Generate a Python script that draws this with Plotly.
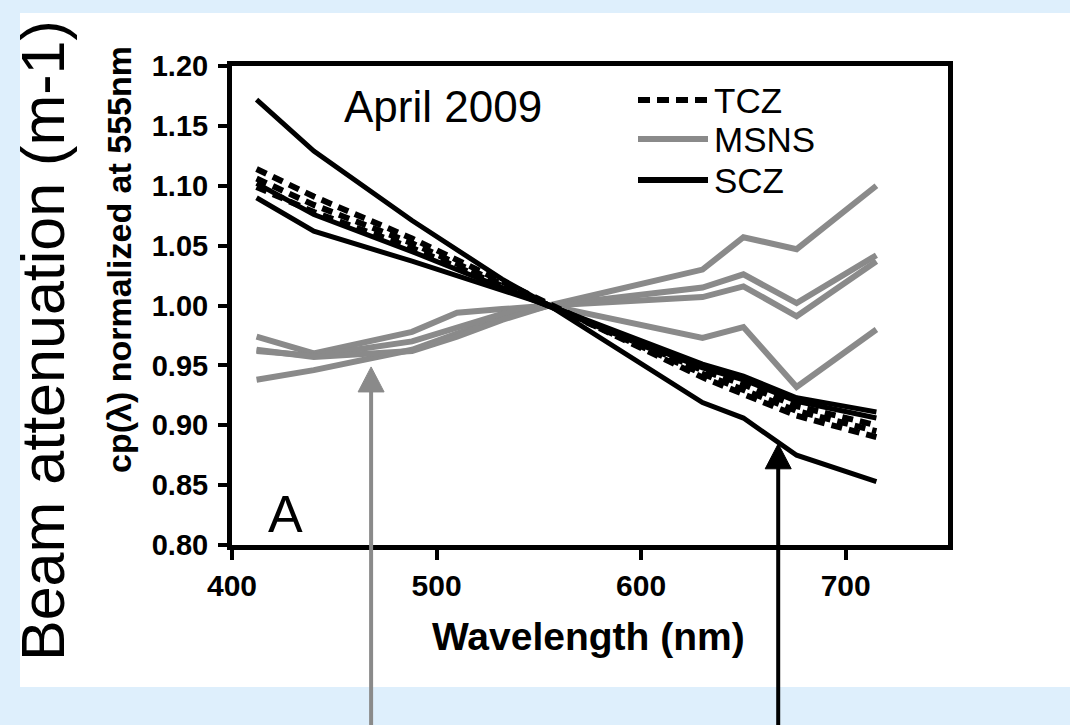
import plotly.graph_objects as go

# ---------------- data ----------------
wavelength = [412, 440, 488, 510, 532, 555, 630, 650, 676, 715]

tcz_1 = [1.114, 1.091, 1.056, 1.038, 1.019, 1.000, 0.940, 0.926, 0.908, 0.890]
tcz_2 = [1.106, 1.084, 1.052, 1.035, 1.017, 1.000, 0.943, 0.930, 0.912, 0.895]
tcz_3 = [1.099, 1.078, 1.048, 1.032, 1.016, 1.000, 0.946, 0.934, 0.916, 0.900]

msns_1 = [0.938, 0.946, 0.963, 0.976, 0.990, 1.000, 1.030, 1.057, 1.047, 1.100]
msns_2 = [0.974, 0.960, 0.978, 0.994, 0.997, 1.000, 1.015, 1.026, 1.002, 1.042]
msns_3 = [0.962, 0.958, 0.970, 0.982, 0.993, 1.000, 1.007, 1.016, 0.991, 1.037]
msns_4 = [0.963, 0.957, 0.962, 0.974, 0.988, 1.000, 0.973, 0.982, 0.932, 0.980]

scz_1 = [1.172, 1.129, 1.071, 1.046, 1.022, 1.000, 0.919, 0.906, 0.875, 0.853]
scz_2 = [1.090, 1.062, 1.037, 1.025, 1.012, 1.000, 0.951, 0.941, 0.923, 0.911]
scz_3 = [1.102, 1.076, 1.045, 1.030, 1.015, 1.000, 0.948, 0.938, 0.920, 0.906]

x_ticks = [400, 500, 600, 700]
y_ticks = [0.80, 0.85, 0.90, 0.95, 1.00, 1.05, 1.10, 1.15, 1.20]
y_tick_labels = ["0.80", "0.85", "0.90", "0.95", "1.00", "1.05", "1.10", "1.15", "1.20"]

series_names = ["TCZ", "MSNS", "SCZ"]
arrow_targets = [(468, 0.9487), (667, 0.8845)]  # wavelength, value at arrow tips

# ---------------- layout constants ----------------
W, H = 1070, 725
ML, MR, MT, MB = 232, 122, 66, 180
PW, PH = W - ML - MR, H - MT - MB
XR = [400, 750]
YR = [0.80, 1.20]
BLACK = "#000000"
GRAY = "#8a8a8a"
BG = "#deeffc"
FONT = "Liberation Sans, Arial, Helvetica, sans-serif"


def px_x(px):
    return (px - ML) / PW


def px_y(py):
    return (H - MB - py) / PH


def data_x(v):
    return (v - XR[0]) / (XR[1] - XR[0])


def data_y(v):
    return (v - YR[0]) / (YR[1] - YR[0])


fig = go.Figure()

for ys in (msns_1, msns_2, msns_3, msns_4):
    fig.add_trace(go.Scatter(x=wavelength, y=ys, mode="lines",
                             line=dict(color=GRAY, width=6),
                             showlegend=False, hoverinfo="skip"))
for ys in (scz_1, scz_2, scz_3):
    fig.add_trace(go.Scatter(x=wavelength, y=ys, mode="lines",
                             line=dict(color=BLACK, width=5),
                             showlegend=False, hoverinfo="skip"))
for ys in (tcz_1, tcz_2, tcz_3):
    fig.add_trace(go.Scatter(x=wavelength, y=ys, mode="lines",
                             line=dict(color=BLACK, width=6, dash="11px,7px"),
                             showlegend=False, hoverinfo="skip"))

shapes = []
# white panel over the light-blue page
shapes.append(dict(type="rect", xref="paper", yref="paper", layer="below",
                   x0=px_x(20), x1=px_x(1075), y0=px_y(687), y1=px_y(13),
                   fillcolor="white", line=dict(width=0)))

# manual legend keys
legend_rows = [(100, BLACK, "dot"), (139, GRAY, "solid"), (180, BLACK, "solid")]
annotations = []
for (py, col, style), name in zip(legend_rows, series_names):
    shapes.append(dict(type="line", xref="paper", yref="paper",
                       x0=px_x(638), x1=px_x(708), y0=px_y(py), y1=px_y(py),
                       line=dict(color=col, width=6,
                                 dash="12px,7px" if style == "dot" else "solid")))
    annotations.append(dict(xref="paper", yref="paper", x=px_x(712), y=px_y(py),
                            xanchor="left", yanchor="middle", showarrow=False,
                            text=name, font=dict(family=FONT, size=35, color=BLACK)))

# arrows
arrow_cols = [GRAY, BLACK]
for (wl, val), col in zip(arrow_targets, arrow_cols):
    xt = data_x(wl)
    yt = data_y(val)
    head_len = 25 / PH
    half_w = 13 / PW
    shapes.append(dict(type="line", xref="paper", yref="paper",
                       x0=xt, x1=xt, y0=yt - head_len + 0.005, y1=px_y(H + 5),
                       line=dict(color=col, width=4)))
    path = (f"M {xt},{yt} L {xt - half_w},{yt - head_len} "
            f"L {xt + half_w},{yt - head_len} Z")
    shapes.append(dict(type="path", xref="paper", yref="paper", path=path,
                       fillcolor=col, line=dict(color=col, width=1)))

# texts
annotations += [
    dict(xref="paper", yref="paper", x=px_x(443), y=px_y(106), showarrow=False,
         xanchor="center", yanchor="middle", text="April 2009",
         font=dict(family=FONT, size=44, color=BLACK)),
    dict(xref="paper", yref="paper", x=px_x(285), y=px_y(514), showarrow=False,
         xanchor="center", yanchor="middle", text="A",
         font=dict(family=FONT, size=52, color=BLACK)),
    dict(xref="paper", yref="paper", x=px_x(588), y=px_y(636), showarrow=False,
         xanchor="center", yanchor="middle", text="<b>Wavelength (nm)</b>",
         font=dict(family=FONT, size=39, color=BLACK)),
    dict(xref="paper", yref="paper", x=px_x(119), y=px_y(260), showarrow=False,
         xanchor="center", yanchor="middle", textangle=-90,
         text="<b>cp(λ) normalized at 555nm</b>",
         font=dict(family=FONT, size=34, color=BLACK)),
    dict(xref="paper", yref="paper", x=px_x(43), y=px_y(341), showarrow=False,
         xanchor="center", yanchor="middle", textangle=-90,
         text="Beam attenuation (m-1)",
         font=dict(family=FONT, size=61, color=BLACK)),
]

fig.update_layout(
    width=W, height=H,
    margin=dict(l=ML, r=MR, t=MT, b=MB, pad=0),
    paper_bgcolor=BG, plot_bgcolor="white",
    showlegend=False,
    shapes=shapes, annotations=annotations,
    xaxis=dict(range=XR, tickvals=x_ticks, ticktext=[str(v) for v in x_ticks],
               showgrid=False, zeroline=False, showline=True, linewidth=5,
               linecolor=BLACK, mirror=True, ticks="outside", ticklen=10,
               tickwidth=4, tickcolor=BLACK,
               tickfont=dict(family=FONT, size=30, color=BLACK, weight="bold")),
    yaxis=dict(range=YR, tickvals=y_ticks, ticktext=y_tick_labels,
               showgrid=False, zeroline=False, showline=True, linewidth=5,
               linecolor=BLACK, mirror=True, ticks="outside", ticklen=9,
               tickwidth=4, tickcolor=BLACK, ticklabelstandoff=4,
               tickfont=dict(family=FONT, size=29, color=BLACK, weight="bold")),
)

fig.write_html("out.html",
               config={"displayModeBar": False},
               post_script="document.body.style.margin='0';"
                           "document.body.style.background='" + BG + "';")
